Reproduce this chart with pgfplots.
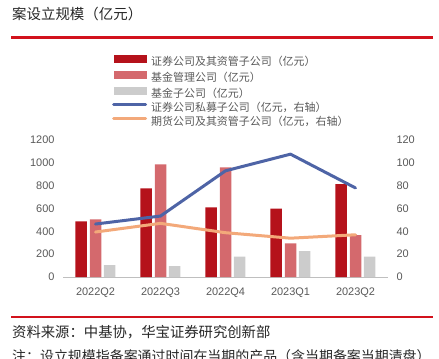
\documentclass[border=0pt]{standalone}
\usepackage{pgfplots}
\pgfplotsset{compat=1.18}
\usepackage{fontspec}
\setmainfont{Liberation Sans}
\newfontfamily\cjk{Noto Sans CJK SC}
\definecolor{cRed}{HTML}{B5121B}
\definecolor{cPink}{HTML}{D4696D}
\definecolor{cGray}{HTML}{CCCCCC}
\definecolor{cBlue}{HTML}{4E64A6}
\definecolor{cOrange}{HTML}{F3A97A}
\definecolor{cRule}{HTML}{D2121C}
\definecolor{cTick}{HTML}{595959}
\begin{document}
\begin{tikzpicture}[x=1bp,y=1bp]
\useasboundingbox (0,0) rectangle (439,358);
\clip (0,0) rectangle (439,358);
\node[anchor=west, inner sep=0pt, font=\cjk\fontsize{14.5}{16}\selectfont, text=black!85] at (12,344) {案设立规模（亿元）};
\draw[cRule, line width=2.5bp] (11,320.5) -- (433,320.5);
\draw[cRule, line width=2bp] (11,41) -- (433,41);
\node[anchor=west, inner sep=0pt, font=\cjk\fontsize{14.4}{16}\selectfont, text=black!85] at (12,26) {资料来源：中基协，华宝证券研究创新部};
\node[anchor=west, inner sep=0pt, font=\cjk\fontsize{14}{16}\selectfont, text=black!85] at (12,2) {注：设立规模指备案通过时间在当期的产品（含当期备案当期清盘）};

\begin{axis}[
  at={(63bp,81bp)}, anchor=south west, scale only axis,
  width=325bp, height=137bp,
  xmin=-0.5, xmax=4.5, ymin=0, ymax=1200,
  ytick={0,200,...,1200},
  xtick={0,...,4},
  xticklabels={2022Q2,2022Q3,2022Q4,2023Q1,2023Q2},
  axis x line*=bottom, axis y line*=left,
  y axis line style={draw=none},
  x axis line style={draw=black!25, line width=0.8bp, -},
  tick style={draw=none},
  /pgf/number format/assume math mode=true,
  /pgf/number format/1000 sep={},
  ticklabel style={font=\fontsize{11}{13}\selectfont, text=cTick},
  xticklabel style={yshift=-7.3bp},
  yticklabel style={xshift=-5bp},
]
\addplot[ybar, bar width=11.5bp, bar shift=-14.5bp, fill=cRed, draw=none] coordinates {(0,487) (1,776) (2,610) (3,598) (4,814)};
\addplot[ybar, bar width=11.5bp, bar shift=0bp, fill=cPink, draw=none] coordinates {(0,505) (1,986) (2,960) (3,295) (4,367)};
\addplot[ybar, bar width=11.5bp, bar shift=14bp, fill=cGray, draw=none] coordinates {(0,105) (1,96) (2,178) (3,227) (4,178)};
\end{axis}

\begin{axis}[
  at={(63bp,81bp)}, anchor=south west, scale only axis,
  width=325bp, height=137bp,
  xmin=-0.5, xmax=4.5, ymin=0, ymax=120,
  ytick={0,20,...,120},
  axis x line=none, axis y line*=right,
  y axis line style={draw=none},
  tick style={draw=none},
  /pgf/number format/assume math mode=true,
  ticklabel style={font=\fontsize{11}{13}\selectfont, text=cTick},
  yticklabel style={xshift=5bp},
  legend style={at={(0.1508,1.62)}, anchor=north west, draw=none, fill=none,
    inner sep=0pt, row sep=3.3bp, column sep=4bp,
    font=\cjk\fontsize{11}{12}\selectfont, text=cTick,
    nodes={inner sep=0pt, text height=8bp, text depth=2bp}},
  legend cell align=left,
]
\addlegendimage{legend image code/.code={\fill[cRed] (0bp,0.5bp) rectangle (32bp,7.5bp);}}
\addlegendentry{证券公司及其资管子公司（亿元）}
\addlegendimage{legend image code/.code={\fill[cPink] (0bp,0.5bp) rectangle (32bp,7.5bp);}}
\addlegendentry{基金管理公司（亿元）}
\addlegendimage{legend image code/.code={\fill[cGray] (0bp,0.5bp) rectangle (32bp,7.5bp);}}
\addlegendentry{基金子公司（亿元）}
\addplot[cBlue, line width=3bp, line join=round, line cap=round, mark=none,
  legend image code/.code={\draw[cBlue, line width=3bp, line cap=round] (0bp,4bp) -- (32bp,4bp);}]
  coordinates {(0,46.4) (1,53.4) (2,93) (3,107.6) (4,78)};
\addlegendentry{证券公司私募子公司（亿元，右轴）}
\addplot[cOrange, line width=3bp, line join=round, line cap=round, mark=none,
  legend image code/.code={\draw[cOrange, line width=3bp, line cap=round] (0bp,4bp) -- (32bp,4bp);}]
  coordinates {(0,39.4) (1,47) (2,38.8) (3,34) (4,37)};
\addlegendentry{期货公司及其资管子公司（亿元，右轴）}
\end{axis}
\end{tikzpicture}
\end{document}
